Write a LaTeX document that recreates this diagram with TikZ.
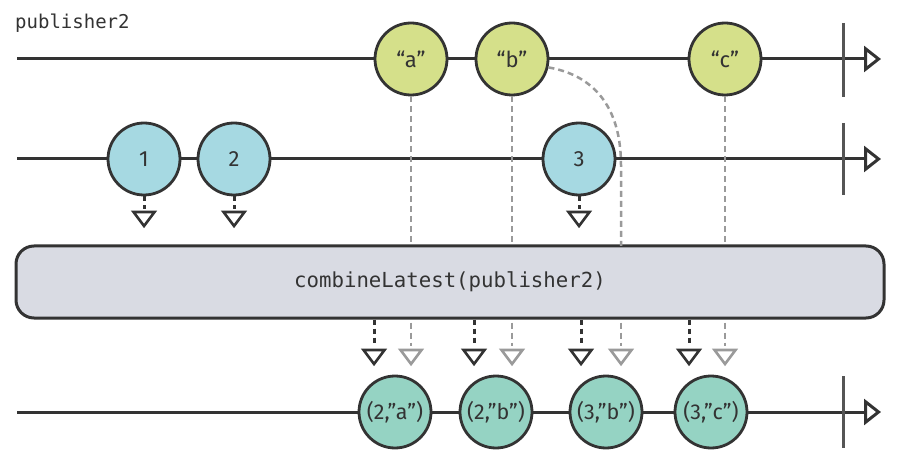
\documentclass[tikz,border=0pt]{standalone}
\usepackage{fontspec}
\setmainfont{Fira Sans}
\setmonofont{DejaVu Sans Mono}
\usetikzlibrary{arrows.meta}
\definecolor{ink}{HTML}{333333}
\definecolor{tickc}{HTML}{555555}
\definecolor{ygreen}{HTML}{D5E08A}
\definecolor{lblue}{HTML}{A6D9E2}
\definecolor{lteal}{HTML}{95D3C3}
\definecolor{boxc}{HTML}{D9DBE3}
\definecolor{dgray}{HTML}{9A9A9A}
\tikzset{
  tline/.style={draw=ink, line width=3pt, -{Triangle[open, length=17pt, width=26pt, line width=3pt]}},
  tickmark/.style={draw=tickc, line width=3pt},
  marble/.style={circle, draw=ink, line width=2.8pt, minimum size=72pt, inner sep=0pt, font=\fontsize{22}{22}\selectfont, text=ink},
  ymarble/.style={marble, fill=ygreen},
  bmarble/.style={marble, fill=lblue},
  tmarble/.style={marble, fill=lteal, font=\fontsize{21.5}{22}\selectfont},
  graydash/.style={draw=dgray, line width=2.5pt, dash pattern=on 6pt off 4pt},
  darkdash/.style={draw=ink, line width=3pt, dash pattern=on 5pt off 4pt},
  optbox/.style={draw=ink, line width=3pt, fill=boxc, rounded corners=18pt, minimum width=868pt, minimum height=72pt, font=\ttfamily\fontsize{20.7}{21}\selectfont, text=ink},
}
\newcommand{\dtri}[2]{\draw[draw=#2, line width=2.6pt, line join=miter, shift={(#1)}] (-10.5,0) -- (10.5,0) -- (0,14) -- cycle;}
\begin{document}
\begin{tikzpicture}[x=1pt, y=-1pt]
\useasboundingbox (0,0) rectangle (900,465);
% label
\node[anchor=base west, inner sep=0pt, font=\ttfamily\fontsize{19}{19}\selectfont, text=ink] (lab) at (15,29) {publisher2};
% timelines
\coordinate (s1) at (17,59); \coordinate (e1) at (881,59);
\coordinate (s2) at (17,159); \coordinate (e2) at (881,159);
\coordinate (s3) at (17,412); \coordinate (e3) at (881,412);
\draw[tline] (s1) -- (e1);
\draw[tline] (s2) -- (e2);
\draw[tline] (s3) -- (e3);
% ticks
\coordinate (k1a) at (843,23); \coordinate (k1b) at (843,97);
\coordinate (k2a) at (843,123); \coordinate (k2b) at (843,195);
\coordinate (k3a) at (843,376); \coordinate (k3b) at (843,448);
\draw[tickmark] (k1a) -- (k1b);
\draw[tickmark] (k2a) -- (k2b);
\draw[tickmark] (k3a) -- (k3b);
% box
\node[optbox] (op) at (450,282) {combineLatest(publisher2)};
% gray dashed from top row
\coordinate (ga) at (411,246); \coordinate (gb) at (512,246); \coordinate (gc) at (725,246);
\coordinate (gbc) at (621,246);
% top marbles
\node[ymarble] (a) at (411,59) {“a”};
\node[ymarble] (b) at (512,59) {“b”};
\node[ymarble] (c) at (725,59) {“c”};
\draw[graydash] (a.south) -- (ga);
\draw[graydash] (b.south) -- (gb);
\draw[graydash] (c.south) -- (gc);
\draw[graydash] (b.-13) .. controls (598,76) and (621,112) .. (621,165) -- (gbc);
% middle marbles
\node[bmarble] (n1) at (144,159) {1};
\node[bmarble] (n2) at (234,159) {2};
\node[bmarble] (n3) at (579,159) {3};
\coordinate (t1) at (144,212); \coordinate (t2) at (234,212); \coordinate (t3) at (579,212);
\coordinate (u1) at (144,209); \coordinate (u2) at (234,209); \coordinate (u3) at (579,209);
\draw[darkdash] (n1.south) -- (u1); \dtri{t1}{ink}
\draw[darkdash] (n2.south) -- (u2); \dtri{t2}{ink}
\draw[darkdash] (n3.south) -- (u3); \dtri{t3}{ink}
% below box
\foreach \x/\nm in {374/d1,474/d2,581/d3,689/d4}{
  \coordinate (\nm e) at (\x,346);
  \coordinate (\nm t) at (\x,350);
  \draw[darkdash] (op.south -| \nm e) -- (\nm e);
  \dtri{\nm t}{ink}
}
\foreach \x/\nm in {411/g1,512/g2,621/g3,725/g4}{
  \coordinate (\nm e) at (\x,346);
  \coordinate (\nm t) at (\x,350);
  \draw[graydash] ([yshift=-3pt]op.south -| \nm e) -- (\nm e);
  \dtri{\nm t}{dgray}
}
% bottom marbles
\node[tmarble] (r1) at (395,412) {(2,”a”)};
\node[tmarble] (r2) at (496,412) {(2,”b”)};
\node[tmarble] (r3) at (606,412) {(3,”b”)};
\node[tmarble] (r4) at (711,412) {(3,”c”)};
\end{tikzpicture}
\end{document}
